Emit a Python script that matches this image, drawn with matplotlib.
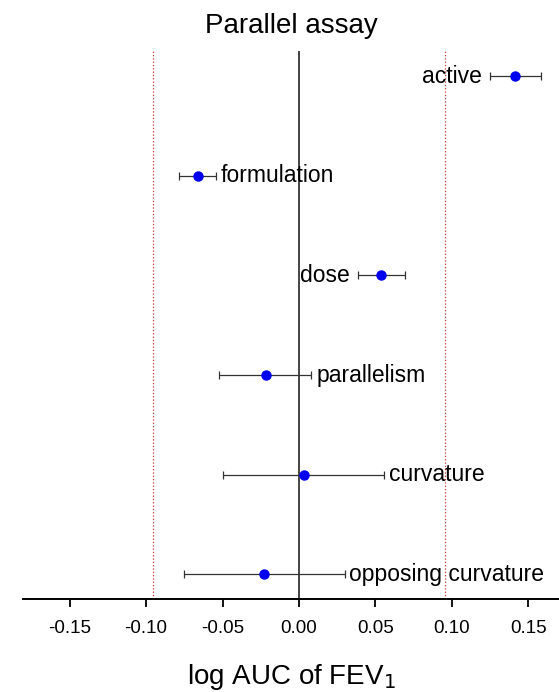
import numpy as np
import matplotlib
matplotlib.use("Agg")
import matplotlib.pyplot as plt

plt.rcParams['font.family'] = ['Liberation Sans', 'DejaVu Sans']

# effects, bottom to top
labels = ['opposing curvature', 'curvature', 'parallelism', 'dose', 'formulation', 'active']
estimate = [-0.0229, 0.0033, -0.0214, 0.0534, -0.0661, 0.1411]
lower = [-0.0755, -0.0497, -0.052, 0.0386, -0.0785, 0.1247]
upper = [0.0298, 0.0554, 0.0081, 0.0691, -0.0541, 0.158]
label_side = ['right', 'right', 'right', 'left', 'right', 'left']
limit = 0.0953  # ln(1.1)

xticks = [-0.15, -0.10, -0.05, 0.00, 0.05, 0.10, 0.15]

fig = plt.figure(figsize=(5.59, 6.92), dpi=100)
ax = fig.add_axes([0.041, 0.134, 0.959, 0.792])

y = np.arange(1, len(labels) + 1)
est = np.array(estimate)
err = np.vstack([est - np.array(lower), np.array(upper) - est])

ax.axvline(0, color='#444444', lw=1.4, zorder=1)
ax.axvline(-limit, color='#c0392b', lw=0.9, ls=':', zorder=1)
ax.axvline(limit, color='#c0392b', lw=0.9, ls=':', zorder=1)

ax.errorbar(est, y, xerr=err, fmt='o', color='#0000ee', ms=6.5,
            ecolor='#333333', elinewidth=0.9, capsize=3, capthick=0.9, zorder=3)

for yi, lab, side, lo, hi in zip(y, labels, label_side, lower, upper):
    if side == 'right':
        ax.annotate(lab, (hi, yi), xytext=(3.5, 0), textcoords='offset points',
                    ha='left', va='center', fontsize=16.5)
    else:
        ax.annotate(lab, (lo, yi), xytext=(-6, 0), textcoords='offset points',
                    ha='right', va='center', fontsize=16.5)

ax.set_xlim(-0.1805, 0.17)
ax.set_ylim(0.75, 6.25)
ax.set_xticks(xticks)
ax.set_xticklabels([f"{t:.2f}" for t in xticks], fontsize=13.5)
ax.set_yticks([])
for s in ['left', 'right', 'top']:
    ax.spines[s].set_visible(False)
ax.spines['bottom'].set_linewidth(1.4)
ax.tick_params(axis='x', length=6, width=1.3, pad=9)

ax.set_xlabel('log AUC of FEV$_1$', fontsize=20, labelpad=18)
ax.set_title('Parallel assay', fontsize=20, pad=13)

fig.savefig('out.png', dpi=100)
